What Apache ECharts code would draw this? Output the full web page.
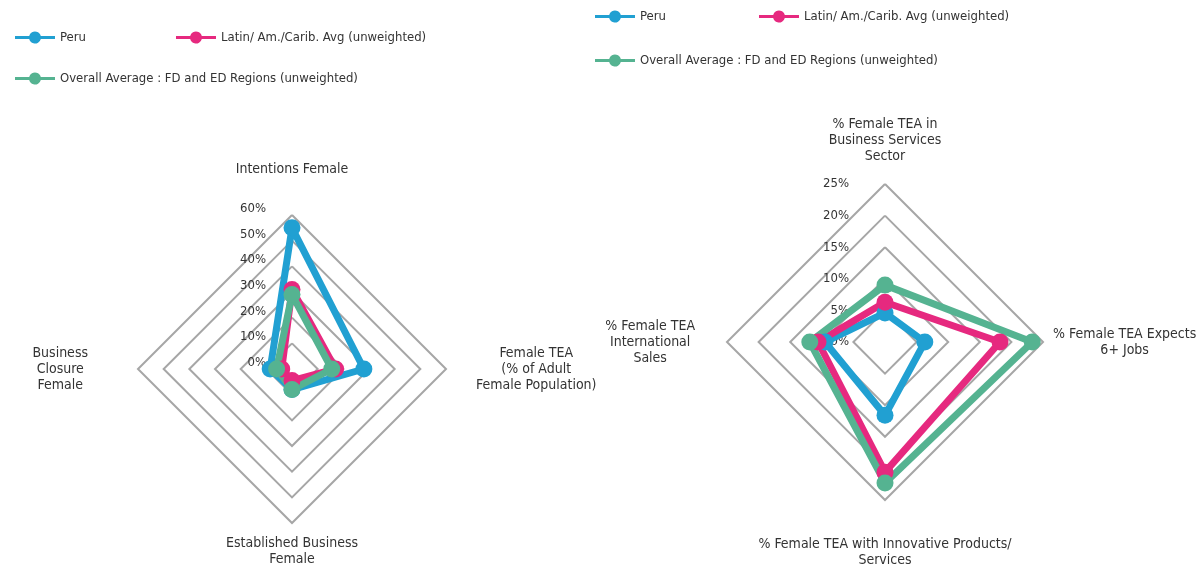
<!DOCTYPE html>
<html>
<head>
<meta charset="utf-8">
<script src="https://cdn.jsdelivr.net/npm/echarts@6/dist/echarts.min.js"></script>
<style>
  html, body { margin: 0; padding: 0; background: #fff; }
  #chart { width: 1199px; height: 570px; }
</style>
</head>
<body>
<div id="chart"></div>
<script>
// Nombres de las series
const seriesNames = ['Peru', 'Latin/ Am./Carib. Avg (unweighted)', 'Overall Average : FD and ED Regions (unweighted)'];
const seriesColors = ['#21a0d2', '#e6297f', '#55b391'];

// Radar izquierdo (arriba, izquierda, abajo, derecha)
const leftAxes = ['Intentions Female', 'Business\nClosure\nFemale', 'Established Business\nFemale', 'Female TEA\n(% of Adult\nFemale Population)'];
const leftPeru = [55, 8.5, 8, 28];
const leftLatam = [31, 4, 4.5, 17];
const leftOverall = [29, 6, 8, 15.5];

// Radar derecho (arriba, izquierda, abajo, derecha)
const rightAxes = ['% Female TEA in\nBusiness Services\nSector', '% Female TEA\nInternational\nSales', '% Female TEA with Innovative Products/\nServices', '% Female TEA Expects\n6+ Jobs'];
const rightPeru = [4.6, 9.5, 11.6, 6.3];
const rightLatam = [6.3, 10.6, 20.6, 18.2];
const rightOverall = [9, 11.9, 22.3, 23.3];

const fuente = "'Liberation Sans Narrow', 'DejaVu Sans Condensed', 'Roboto', sans-serif";
const colorTexto = '#333333';

// Icono de leyenda: linea con circulo
const iconoLinea = 'path://M0,4.5 L14.19,4.5 A6,6 0 0 1 25.81,4.5 L40,4.5 L40,7.5 L25.81,7.5 A6,6 0 0 1 14.19,7.5 L0,7.5 Z';

function crearLeyenda(datos, left, top, gap) {
    return {
        data: datos,
        left: left,
        top: top,
        orient: 'horizontal',
        icon: iconoLinea,
        itemWidth: 40,
        itemHeight: 12,
        itemGap: gap,
        selectedMode: false,
        textStyle: { fontFamily: fuente, fontSize: 13, color: colorTexto }
    };
}

function crearIndicadores(nombres, max, gaps, conEtiquetas) {
    return nombres.map((n, i) => {
        const ind = { name: n, min: 0, max: max, nameGap: gaps[i] };
        if (i === 0) {
            ind.axisLabel = conEtiquetas;
        }
        return ind;
    });
}

function crearRadar(indicadores, centro, radio, splitNumber) {
    return {
        indicator: indicadores,
        center: centro,
        radius: radio,
        shape: 'polygon',
        startAngle: 90,
        splitNumber: splitNumber,
        axisName: {
            color: colorTexto,
            fontFamily: fuente,
            fontSize: 14,
            formatter: function (nombre) {
                return nombre.split('\n').map(l => '{c|' + l + '}').join('\n');
            },
            rich: {
                c: { align: 'center', fontFamily: fuente, fontSize: 14, color: colorTexto, lineHeight: 16 }
            }
        },
        axisLine: { show: false },
        axisTick: { show: false },
        splitArea: { show: false },
        splitLine: { lineStyle: { color: '#a6a6a6', width: 2 } }
    };
}

function crearSerie(radarIndex, valores) {
    return {
        type: 'radar',
        radarIndex: radarIndex,
        symbol: 'circle',
        symbolSize: 17,
        silent: true,
        data: valores.map((v, i) => ({
            name: seriesNames[i],
            value: v,
            itemStyle: { color: seriesColors[i] },
            lineStyle: { color: seriesColors[i], width: 7 }
        }))
    };
}

const etiquetaIzq = { show: true, formatter: '{value}%', color: colorTexto, fontFamily: fuente, fontSize: 13, margin: 26, verticalAlign: 'bottom' };
const etiquetaDer = { show: true, formatter: '{value}%', color: colorTexto, fontFamily: fuente, fontSize: 13, margin: 36 };

const myChart = echarts.init(document.getElementById('chart'), null, { renderer: 'canvas' });

const option = {
    backgroundColor: '#ffffff',
    animation: false,
    legend: [
        crearLeyenda([seriesNames[0], seriesNames[1]], 10, 26, 90),
        crearLeyenda([seriesNames[2]], 10, 67, 10),
        crearLeyenda([seriesNames[0], seriesNames[1]], 590, 5, 93),
        crearLeyenda([seriesNames[2]], 590, 49, 10)
    ],
    radar: [
        crearRadar(crearIndicadores(leftAxes, 60, [38, 50, 12, 30], etiquetaIzq), [292, 369], 154, 6),
        crearRadar(crearIndicadores(rightAxes, 25, [20, 32, 36, 10], etiquetaDer), [885, 342], 158, 5)
    ],
    series: [
        crearSerie(0, [leftPeru, leftLatam, leftOverall]),
        crearSerie(1, [rightPeru, rightLatam, rightOverall])
    ]
};

myChart.setOption(option);
</script>
</body>
</html>
